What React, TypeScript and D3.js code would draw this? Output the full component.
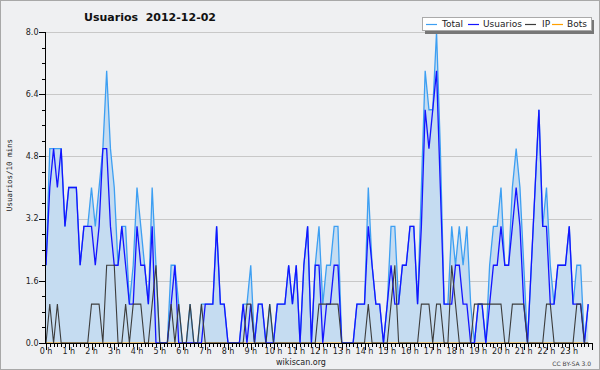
import React from 'react';
import * as d3 from 'd3';

const title = 'Usuarios  2012-12-02';
const yTitle = 'Usuarios/10 mins';
const hourLabels = ['0 h','1 h','2 h','3 h','4 h','5 h','6 h','7 h','8 h','9 h','10 h','11 h','12 h','13 h','14 h','15 h','16 h','17 h','18 h','19 h','20 h','21 h','22 h','23 h'];
const yTicks = [0, 1.6, 3.2, 4.8, 6.4, 8.0];
const seriesNames = ['Total', 'Usuarios', 'IP', 'Bots'];

// values per 10-minute slot (144 slots)
const total = [
  2,5,5,5,5,3,4,4,4,2,3,3,4,3,4,5,7,5,4,2,3,3,1,2,
  4,3,2,1,4,2,0,0,0,2,2,1,0,0,1,0,0,1,1,1,1,3,1,1,
  0,0,0,0,1,1,2,0,1,1,0,1,0,1,1,1,2,1,2,0,2,3,0,2,
  3,1,2,2,3,3,0,0,0,0,1,1,1,4,2,1,1,0,1,3,3,1,2,2,
  3,3,1,4,7,6,6,8,5,1,1,3,2,3,2,3,1,0,1,1,0,2,3,3,
  4,2,2,4,5,4,2,0,2,4,6,3,4,2,1,2,2,2,3,1,2,2,0,1,
];
const usuarios = [
  2,4,5,4,5,3,4,4,4,2,3,3,3,2,3,5,5,3,2,2,3,2,1,1,
  3,2,2,1,3,0,0,0,0,1,2,0,0,0,0,0,0,0,1,1,1,3,1,1,
  0,0,0,0,1,0,1,0,1,1,0,0,0,1,1,1,2,1,2,0,2,3,0,2,
  2,0,1,1,2,2,0,0,0,0,1,1,1,3,2,1,1,0,1,2,1,1,2,2,
  3,3,1,3,6,5,6,7,4,1,1,1,2,2,1,1,0,0,1,1,0,1,2,2,
  3,2,2,3,4,3,1,0,2,4,6,3,3,1,1,2,2,2,3,1,1,1,0,1,
];
const ip = [
  0,1,0,1,0,0,0,0,0,0,0,0,1,1,1,0,2,2,2,0,0,1,0,1,
  1,1,0,0,1,2,0,0,0,1,0,1,0,0,1,0,0,1,0,0,0,0,0,0,
  0,0,0,0,0,1,1,0,0,0,0,1,0,0,0,0,0,0,0,0,0,0,0,0,
  1,1,1,1,1,1,0,0,0,0,0,0,0,1,0,0,0,0,0,1,2,0,0,0,
  0,0,0,1,1,1,0,1,1,0,0,2,1,0,0,0,0,1,1,1,1,1,1,1,
  1,0,0,1,1,1,1,0,0,0,0,0,1,1,0,0,0,0,0,0,1,1,0,0,
];
const bots = new Array(144).fill(0);

const W = 600, H = 370;
const colors = { total: '#3d9ff2', fill: '#c5dcf1', usuarios: '#1414ff', ip: '#3c3c3c', bots: '#ffa000' };

export default function App() {
  const x = d3.scaleLinear().domain([0, 144]).range([46, 592]);
  const y = d3.scaleLinear().domain([0, 8]).range([343, 32]);
  const line = d3.line<number>().x((_, i) => x(i)).y(d => y(d));
  const area = d3.area<number>().x((_, i) => x(i)).y0(y(0)).y1(d => y(d));
  const minorY = d3.range(0, 21).map(k => k * 0.4);
  const minorX = d3.range(0, 145);
  const font = 'DejaVu Sans';
  const legendItems = [
    { name: seriesNames[0], color: colors.total, lx: 426, tx: 442 },
    { name: seriesNames[1], color: colors.usuarios, lx: 468, tx: 483 },
    { name: seriesNames[2], color: colors.ip, lx: 525, tx: 542 },
    { name: seriesNames[3], color: colors.bots, lx: 552, tx: 567 },
  ];
  return (
    <div style={{ position: 'absolute', left: 0, top: 0 }}>
      <svg width={W} height={H} style={{ display: 'block' }}>
        <rect x={0.5} y={0.5} width={W - 1} height={H - 1} fill="#eff0f2" stroke="#a8a8a8" />
        {yTicks.map(t => (
          <line key={'g' + t} x1={46} x2={592} y1={Math.round(y(t)) + 0.5} y2={Math.round(y(t)) + 0.5} stroke="#c8c8c8" />
        ))}
        <path d={area(total) || ''} fill={colors.fill} />
        <path d={line(bots) || ''} fill="none" stroke={colors.bots} strokeWidth={1.2} />
        <path d={line(total) || ''} fill="none" stroke={colors.total} strokeWidth={1.3} />
        <path d={line(usuarios) || ''} fill="none" stroke={colors.usuarios} strokeWidth={1.3} />
        <path d={line(ip) || ''} fill="none" stroke={colors.ip} strokeWidth={1.1} />
        {/* axes */}
        <line x1={45.5} x2={45.5} y1={32} y2={343.5} stroke="#000" />
        <line x1={45.5} x2={592.5} y1={343.5} y2={343.5} stroke="#000" />
        {minorY.map((t, k) => (
          <line key={'ty' + k} x1={k % 4 === 0 ? 39 : 42} x2={46} y1={Math.round(y(t)) + 0.5} y2={Math.round(y(t)) + 0.5} stroke="#000" />
        ))}
        {yTicks.map(t => (
          <text key={'yl' + t} x={38.5} y={y(t)} dy="0.35em" textAnchor="end" fontFamily={font} fontSize={8} fill="#222">{t.toFixed(1)}</text>
        ))}
        {minorX.map(i => (
          <line key={'tx' + i} x1={Math.round(x(i)) + 0.5} x2={Math.round(x(i)) + 0.5} y1={343} y2={i % 6 === 0 ? 350 : 347} stroke="#000" />
        ))}
        {hourLabels.map((h, k) => (
          <text key={'xl' + k} x={x(k * 6)} y={353.5} textAnchor="middle" fontFamily={font} fontSize={8} fill="#222">{h}</text>
        ))}
        <text x={150} y={21} textAnchor="middle" fontFamily={font} fontWeight="bold" fontSize={11} fill="#111" style={{ whiteSpace: 'pre' }}>{title}</text>
        <text transform="translate(12,175) rotate(-90)" textAnchor="middle" fontFamily="DejaVu Sans Mono" fontSize={7.5} fill="#222">{yTitle}</text>
        <text x={301} y={365} textAnchor="middle" fontFamily={font} fontSize={8} fill="#222">wikiscan.org</text>
        <text x={591} y={366} textAnchor="end" fontFamily={font} fontSize={6} fill="#444">CC BY-SA 3.0</text>
        {/* legend */}
        <rect x={425} y={20} width={169} height={14} fill="#777" />
        <rect x={422.5} y={17.5} width={169} height={13} fill="#fff" stroke="#aaa" />
        {legendItems.map(it => (
          <g key={it.name}>
            <line x1={it.lx} x2={it.lx + 11} y1={24.5} y2={24.5} stroke={it.color} strokeWidth={1.2} />
            <text x={it.tx} y={24} dy="0.35em" fontFamily={font} fontSize={9} fill="#222">{it.name}</text>
          </g>
        ))}
      </svg>
    </div>
  );
}
